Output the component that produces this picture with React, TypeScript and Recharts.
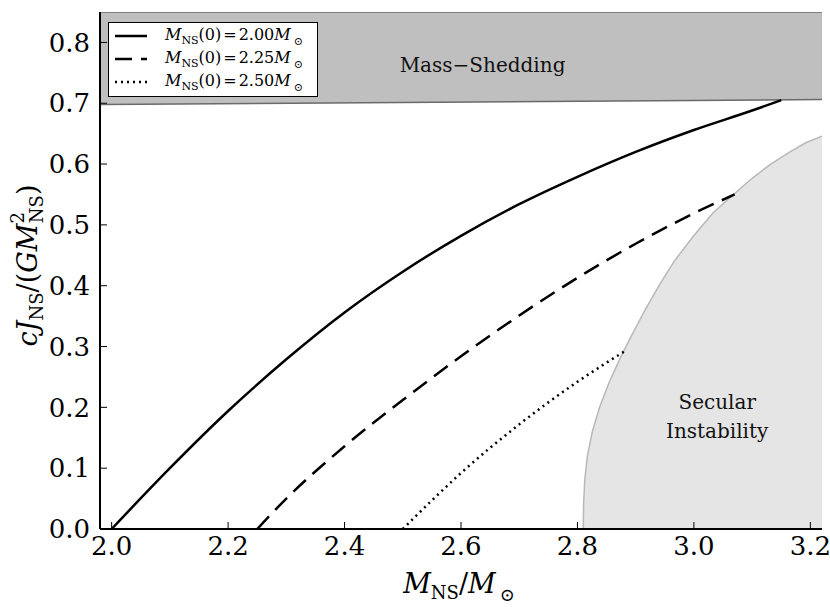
import React from 'react';
import {
  ComposedChart, Line, Area, XAxis, YAxis, ReferenceDot, Legend, Label,
} from 'recharts';

const xTicks = [2.0, 2.2, 2.4, 2.6, 2.8, 3.0, 3.2];
const yTicks = [0, 0.1, 0.2, 0.3, 0.4, 0.5, 0.6, 0.7, 0.8];

// M_NS(0) = 2.00
const solidM = [2.0, 2.1, 2.2, 2.3, 2.4, 2.5, 2.6, 2.7, 2.8, 2.9, 3.0, 3.1, 3.15];
const solidJ = [0, 0.100, 0.194, 0.279, 0.356, 0.423, 0.482, 0.534, 0.579, 0.620, 0.656, 0.688, 0.705];

// M_NS(0) = 2.25
const dashedM = [2.25, 2.3, 2.4, 2.5, 2.6, 2.7, 2.8, 2.9, 3.0, 3.07];
const dashedJ = [0, 0.050, 0.136, 0.212, 0.284, 0.351, 0.413, 0.469, 0.519, 0.550];

// M_NS(0) = 2.50
const dottedM = [2.5, 2.55, 2.6, 2.7, 2.8, 2.884];
const dottedJ = [0, 0.047, 0.092, 0.172, 0.242, 0.294];

// mass-shedding limit (shaded above)
const shedM = [1.98, 3.22];
const shedJ = [0.698, 0.706];

// secular instability boundary (shaded below)
const secM = [2.810, 2.8105, 2.8125, 2.8170, 2.8255, 2.838, 2.854, 2.873, 2.894, 2.916, 2.940,
  2.966, 2.998, 3.033, 3.068, 3.098, 3.132, 3.165, 3.192, 3.22];
const secJ = [0, 0.04, 0.08, 0.12, 0.16, 0.20, 0.24, 0.28, 0.32, 0.36, 0.40,
  0.44, 0.48, 0.52, 0.55, 0.575, 0.60, 0.62, 0.635, 0.646];

const legendNames = ['2.00', '2.25', '2.50'];
const legendDash = ['none', '17 9', '2 4'];

const Y_TOP = 0.85;

const toPts = (xs: number[], ys: number[]) => xs.map((x, i) => ({ x, y: ys[i] }));
const solidData = toPts(solidM, solidJ);
const dashedData = toPts(dashedM, dashedJ);
const dottedData = toPts(dottedM, dottedJ);
const secData = toPts(secM, secJ);
const shedData = shedM.map((x, i) => ({ x, y: [shedJ[i], Y_TOP] }));

// "Liberation Serif" resolves to a sans face here, so DejaVu Serif it is
const SERIF = 'DejaVu Serif';

function XTick({ x, y, payload }: any) {
  return (
    <text x={x} y={y} dy="0.71em" textAnchor="middle" fontSize={26} fill="#000" fontFamily={SERIF}>
      {Number(payload.value).toFixed(1)}
    </text>
  );
}

function YTick({ x, y, payload }: any) {
  return (
    <text x={x} y={y} dy="0.355em" textAnchor="end" fontSize={26} fill="#000" fontFamily={SERIF}>
      {Number(payload.value).toFixed(1)}
    </text>
  );
}

function LegendBox() {
  return (
    <div style={{
      width: 210, height: 75, boxSizing: 'border-box', border: '1.5px solid #000',
      background: '#fff', paddingTop: 1,
    }}>
      {legendNames.map((n, i) => (
        <div key={n} style={{ display: 'flex', alignItems: 'center', height: 23.3 }}>
          <svg width={56} height={10} style={{ flex: 'none' }}>
            <line x1={6} x2={38} y1={5} y2={5} stroke="#000" strokeWidth={2.5}
              strokeDasharray={legendDash[i] === 'none' ? undefined : legendDash[i]} />
          </svg>
          <span style={{ fontFamily: SERIF, fontSize: 16, lineHeight: '18px', whiteSpace: 'nowrap' }}>
            <i>M</i>
            <span style={{ fontSize: 11, position: 'relative', top: 4 }}>NS</span>
            (0)
            <span style={{ margin: '0 2px' }}>=</span>
            {n}
            <i>M</i>
            <span style={{ fontSize: 11, position: 'relative', top: 5, marginLeft: 3 }}>⊙</span>
          </span>
        </div>
      ))}
    </div>
  );
}

function YTitle({ viewBox }: any) {
  const x = viewBox.x + 17;
  const y = viewBox.y + viewBox.height / 2 - 5;
  return (
    <text x={x} y={y} transform={`rotate(-90, ${x}, ${y})`} textAnchor="middle"
      fontFamily={SERIF} fontSize={27} fill="#000">
      <tspan fontStyle="italic">cJ</tspan>
      <tspan fontSize={18} dy={6}>NS</tspan>
      <tspan dy={-6}>/(</tspan>
      <tspan fontStyle="italic">GM</tspan>
      <tspan fontSize={18} dy={-13}>2</tspan>
      <tspan fontSize={18} dx={-11} dy={19}>NS</tspan>
      <tspan dy={-6}>)</tspan>
    </text>
  );
}

function XTitle({ viewBox }: any) {
  const x = viewBox.x + viewBox.width / 2 - 2;
  const y = viewBox.y + 64;
  return (
    <text x={x} y={y} textAnchor="middle" fontFamily={SERIF} fontSize={27} fill="#000">
      <tspan fontStyle="italic">M</tspan>
      <tspan fontSize={18} dy={6}>NS</tspan>
      <tspan dy={-6}>/</tspan>
      <tspan fontStyle="italic">M</tspan>
      <tspan fontSize={18} dx={4} dy={8}>⊙</tspan>
    </text>
  );
}

const note = (text: string) => ({ viewBox }: any) => (
  <text x={viewBox.x + viewBox.width / 2} y={viewBox.y + viewBox.height / 2}
    textAnchor="middle" fontFamily={SERIF} fontSize={20} fill="#111">
    {text}
  </text>
);

const frame = { stroke: '#000', strokeWidth: 2 };
const tickMark = { stroke: '#000', strokeWidth: 1 };

export default function App() {
  return (
    <div style={{ position: 'absolute', left: 0, top: 0, width: 830, height: 609, background: '#fff' }}>
      <ComposedChart width={830} height={609} margin={{ top: 12, right: 8, bottom: 20, left: 20 }}>
        <Area data={shedData} dataKey="y" type="linear" fill="#bfbfbf" fillOpacity={1}
          stroke="#6a6a6a" strokeWidth={1.5} isAnimationActive={false} />
        <Area data={secData} dataKey="y" type="linear" fill="#e5e5e5" fillOpacity={1}
          stroke="#b8b8b8" strokeWidth={1.5} isAnimationActive={false} />
        <Line data={solidData} dataKey="y" type="monotone" stroke="#000" strokeWidth={2.5}
          dot={false} isAnimationActive={false} />
        <Line data={dashedData} dataKey="y" type="monotone" stroke="#000" strokeWidth={2.5}
          strokeDasharray="17 9" dot={false} isAnimationActive={false} />
        <Line data={dottedData} dataKey="y" type="monotone" stroke="#000" strokeWidth={2.5}
          strokeDasharray="2 4" dot={false} isAnimationActive={false} />
        <ReferenceDot x={2.637} y={0.752} r={0} fill="none" stroke="none" label={note('Mass\u2212Shedding')} />
        <ReferenceDot x={3.040} y={0.198} r={0} fill="none" stroke="none" label={note('Secular')} />
        <ReferenceDot x={3.040} y={0.150} r={0} fill="none" stroke="none" label={note('Instability')} />
        <XAxis dataKey="x" type="number" domain={[1.98, 3.22]} allowDataOverflow ticks={xTicks}
          interval={0} height={60} tickSize={-7} tickMargin={15} tick={<XTick />}
          axisLine={frame} tickLine={tickMark}>
          <Label content={XTitle} />
        </XAxis>
        <XAxis xAxisId="top" orientation="top" dataKey="x" type="number" domain={[1.98, 3.22]}
          allowDataOverflow ticks={xTicks} interval={0} height={0} tick={false} tickSize={-7}
          axisLine={frame} tickLine={tickMark} />
        <YAxis type="number" domain={[0, Y_TOP]} allowDataOverflow ticks={yTicks} interval={0}
          width={80} tickSize={-7} tickMargin={17} tick={<YTick />}
          axisLine={frame} tickLine={tickMark}>
          <Label content={YTitle} />
        </YAxis>
        <YAxis yAxisId="right" orientation="right" type="number" domain={[0, Y_TOP]} allowDataOverflow
          ticks={yTicks} interval={0} width={0} tick={false} tickSize={-7}
          axisLine={frame} tickLine={tickMark} />
        <Legend layout="horizontal" verticalAlign="middle" align="center"
          wrapperStyle={{ position: 'absolute', left: 108, top: 22, width: 210, height: 75 }}
          content={() => <LegendBox />} />
      </ComposedChart>
    </div>
  );
}
